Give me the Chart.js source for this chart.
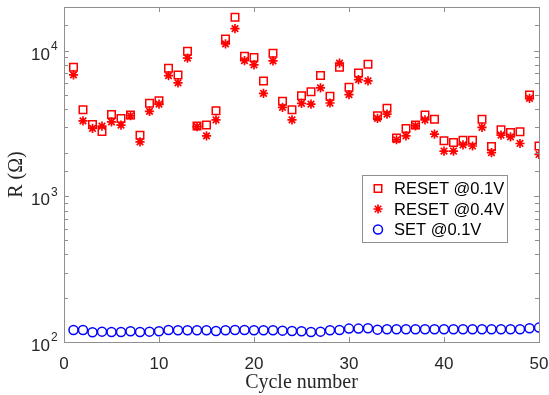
<!DOCTYPE html>
<html lang="en">
<head>
<meta charset="UTF-8">
<title>R vs cycle number</title>
<script src="https://cdn.jsdelivr.net/npm/chart.js"></script>
<style>
  html, body { margin: 0; padding: 0; background: #fff; }
  #wrap { width: 549px; height: 395px; }
</style>
</head>
<body>
<div id="wrap"><canvas id="rChart"></canvas></div>
<script>
// cycle index
const cycles = [1, 2, 3, 4, 5, 6, 7, 8, 9, 10, 11, 12, 13, 14, 15, 16, 17, 18, 19, 20,
  21, 22, 23, 24, 25, 26, 27, 28, 29, 30, 31, 32, 33, 34, 35, 36, 37, 38, 39, 40,
  41, 42, 43, 44, 45, 46, 47, 48, 49, 50];

// resistance read at 0.1 V after RESET (ohm)
const resetAt01 = [7720, 3940, 3120, 2795, 3660, 3435, 3620, 2635, 4360, 4540,
  7600, 6830, 9950, 3040, 3090, 3875, 12050, 16980, 9190, 8990,
  6210, 9640, 4500, 3940, 4920, 5240, 6760, 4870, 7720, 5620,
  7050, 8090, 3580, 4025, 2520, 2930, 3090, 3620, 3395, 2410,
  2345, 2430, 2430, 3395, 2200, 2870, 2750, 2780, 4970, 2220];

// resistance read at 0.4 V after RESET (ohm)
const resetAt04 = [6830, 3305, 2930, 3040, 3250, 3090, 3580, 2370, 3840, 4310,
  6760, 6020, 8910, 3020, 2605, 3360, 11170, 14190, 8570, 8000,
  5110, 8530, 4090, 3360, 4360, 4310, 5560, 4380, 8230, 5000,
  6340, 6210, 3435, 3680, 2450, 2605, 3055, 3360, 2680, 2050,
  2050, 2260, 2220, 2980, 2000, 2635, 2565, 2310, 4720, 1940];

// resistance read at 0.1 V after SET (ohm)
const setAt01 = [121.0, 121.0, 116.6, 117.8, 117.2, 117.2, 118.5, 117.2, 117.8, 118.5,
  121.0, 120.4, 120.4, 120.4, 120.4, 119.1, 120.4, 121.0, 121.0, 120.4,
  120.4, 120.4, 119.7, 119.1, 118.5, 117.2, 117.8, 120.4, 121.0, 123.6,
  123.6, 124.2, 121.6, 122.3, 122.3, 122.3, 122.3, 122.3, 122.3, 122.3,
  122.3, 122.3, 122.3, 122.3, 122.3, 122.3, 122.3, 122.3, 124.2, 125.6];

const seriesNames = ['RESET @0.1V', 'RESET @0.4V', 'SET @0.1V'];
const xTickValues = [0, 10, 20, 30, 40, 50];

const toPoints = vals => cycles.map((c, i) => ({ x: c, y: vals[i] }));

const axisGray = '#8f8f8f';
const textCol = '#262626';

// box, inward ticks, y labels with exponents, y title, legend
const matlabAxes = {
  id: 'matlabAxes',
  afterDatasetsDraw(chart) {
    const ctx = chart.ctx;
    const a = chart.chartArea;
    const xs = chart.scales.x, ys = chart.scales.y;
    ctx.save();
    ctx.strokeStyle = axisGray;
    ctx.lineWidth = 1;
    ctx.strokeRect(Math.round(a.left) + 0.5, Math.round(a.top) + 0.5,
      Math.round(a.right - a.left), Math.round(a.bottom - a.top));

    // x ticks, pointing in from top and bottom
    ctx.beginPath();
    xs.ticks.forEach(t => {
      const px = Math.round(xs.getPixelForValue(t.value)) + 0.5;
      ctx.moveTo(px, a.bottom); ctx.lineTo(px, a.bottom - 5);
      ctx.moveTo(px, a.top); ctx.lineTo(px, a.top + 5);
    });
    // y ticks (log minor + major), left and right
    ys.ticks.forEach(t => {
      const py = Math.round(ys.getPixelForValue(t.value)) + 0.5;
      const major = Math.abs(Math.log10(t.value) % 1) < 1e-9;
      const len = major ? 5 : 4;
      ctx.moveTo(a.left, py); ctx.lineTo(a.left + len, py);
      ctx.moveTo(a.right, py); ctx.lineTo(a.right - len, py);
    });
    ctx.stroke();

    // y tick labels 10^n
    ctx.fillStyle = textCol;
    ys.ticks.forEach(t => {
      const e = Math.log10(t.value);
      if (Math.abs(e - Math.round(e)) > 1e-9) return;
      const py = ys.getPixelForValue(t.value);
      ctx.font = '17px "Liberation Sans", Arial, sans-serif';
      ctx.textAlign = 'right';
      ctx.textBaseline = 'middle';
      ctx.fillText('10', 50, py + 4);
      ctx.font = '12px "Liberation Sans", Arial, sans-serif';
      ctx.textAlign = 'left';
      ctx.fillText(String(Math.round(e)), 51, py - 4);
    });

    // y title
    ctx.save();
    ctx.translate(17, (a.top + a.bottom) / 2);
    ctx.rotate(-Math.PI / 2);
    ctx.font = '20px "Liberation Serif", "Times New Roman", serif';
    ctx.textAlign = 'center';
    ctx.textBaseline = 'middle';
    ctx.fillText('R (\u03A9)', 0, 0);
    ctx.restore();

    // legend box
    const lx = 362, ly = 175, lw = 145, lh = 67;
    ctx.fillStyle = '#fff';
    ctx.fillRect(lx, ly, lw, lh);
    ctx.strokeStyle = axisGray;
    ctx.lineWidth = 1;
    ctx.strokeRect(lx + 0.5, ly + 0.5, lw, lh);
    chart.data.datasets.forEach((ds, i) => {
      const cy = ly + 13.5 + i * 20.5;
      ctx.strokeStyle = ds.borderColor;
      ctx.fillStyle = 'rgba(0,0,0,0)';
      ctx.lineWidth = ds.pointBorderWidth;
      Chart.helpers.drawPoint(ctx, {
        pointStyle: ds.pointStyle,
        radius: ds.pointRadius,
        borderWidth: ds.pointBorderWidth,
        rotation: 0
      }, lx + 16, cy);
      ctx.fillStyle = '#000';
      ctx.font = '16.5px "Liberation Sans", Arial, sans-serif';
      ctx.textAlign = 'left';
      ctx.textBaseline = 'middle';
      ctx.fillText(ds.label, lx + 32, cy + 1);
    });
    ctx.restore();
  }
};

new Chart(document.getElementById('rChart'), {
  type: 'scatter',
  data: {
    datasets: [
      {
        label: seriesNames[0],
        data: toPoints(resetAt01),
        pointStyle: 'rect',
        pointRadius: 5.3,
        pointBorderWidth: 1.5,
        borderColor: '#ff0000',
        backgroundColor: 'rgba(0,0,0,0)'
      },
      {
        label: seriesNames[1],
        data: toPoints(resetAt04),
        pointStyle: 'star',
        pointRadius: 4.6,
        pointBorderWidth: 1.7,
        borderColor: '#ff0000',
        backgroundColor: 'rgba(0,0,0,0)'
      },
      {
        label: seriesNames[2],
        data: toPoints(setAt01),
        pointStyle: 'circle',
        pointRadius: 4.5,
        pointBorderWidth: 1.5,
        borderColor: '#0000ff',
        backgroundColor: 'rgba(0,0,0,0)'
      }
    ]
  },
  options: {
    responsive: true,
    maintainAspectRatio: false,
    animation: false,
    layout: { padding: { top: 7, right: 10, left: 0, bottom: 0 } },
    plugins: {
      legend: { display: false },
      tooltip: { enabled: false }
    },
    scales: {
      x: {
        type: 'linear',
        min: 0,
        max: 50,
        afterBuildTicks: s => { s.ticks = xTickValues.map(v => ({ value: v })); },
        grid: { display: false, drawTicks: false },
        border: { display: false },
        ticks: {
          color: textCol,
          padding: 12,
          maxRotation: 0,
          font: { family: '"Liberation Sans", Arial, sans-serif', size: 17 }
        },
        title: {
          display: true,
          text: 'Cycle number',
          color: textCol,
          padding: 0,
          font: { family: '"Liberation Serif", "Times New Roman", serif', size: 20 }
        },
        afterFit: s => { s.height = 53; s.paddingLeft = 0; s.paddingRight = 0; }
      },
      y: {
        type: 'logarithmic',
        min: 100,
        max: 20000,
        grid: { display: false, drawTicks: false },
        border: { display: false },
        ticks: { display: false },
        afterFit: s => { s.width = 64; }
      }
    }
  },
  plugins: [matlabAxes]
});
</script>
</body>
</html>
